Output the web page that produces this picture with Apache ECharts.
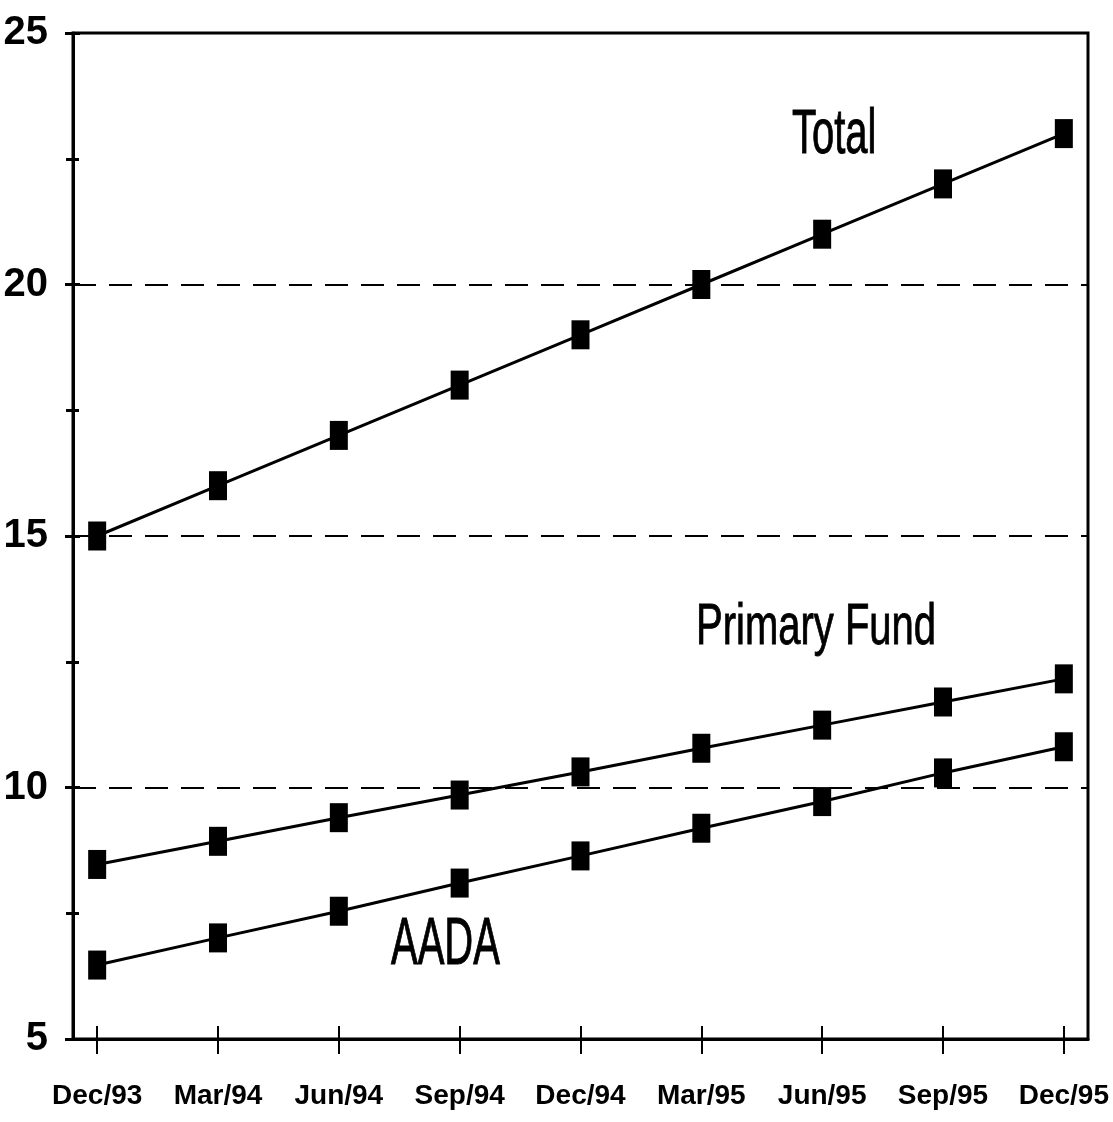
<!DOCTYPE html>
<html><head><meta charset="utf-8">
<script src="https://cdn.jsdelivr.net/npm/echarts@6/dist/echarts.min.js"></script>
<style>html,body{margin:0;padding:0;background:#fff}#c{width:1113px;height:1122px}</style>
</head><body><div id="c"></div>
<script>
const categories = ['Dec/93','Mar/94','Jun/94','Sep/94','Dec/94','Mar/95','Jun/95','Sep/95','Dec/95'];
const totalValues = [15, 16, 17, 18, 19, 20, 21, 22, 23];
const primaryValues = [8.47, 8.93, 9.40, 9.85, 10.31, 10.78, 11.24, 11.70, 12.16];
const aadaValues = [6.47, 7.01, 7.54, 8.10, 8.64, 9.19, 9.72, 10.29, 10.81];
const yTicks = [5, 10, 15, 20, 25];
const seriesNames = ['Total', 'Primary Fund', 'AADA'];

const FONT = '"Liberation Sans", Arial, sans-serif';
const idx = categories.map((_, i) => i);
const toPairs = arr => arr.map((v, i) => [i, v]);

const chart = echarts.init(document.getElementById('c'));
const lineSeries = (name, data) => ({
  name, type: 'line', data: toPairs(data), xAxisIndex: 0, yAxisIndex: 0,
  symbol: 'rect', symbolSize: [18, 29],
  itemStyle: { color: '#000' },
  lineStyle: { color: '#000', width: 3 },
  animation: false, z: 5
});
const seriesLabel = (text, left, cy, sy) => ({
  type: 'text', x: left, y: cy, scaleY: sy, z: 10,
  style: { text, x: 0, y: 0, align: 'left', verticalAlign: 'middle', fill: '#000',
           stroke: '#000', lineWidth: 0.6, font: '40px ' + FONT }
});
chart.setOption({
  animation: false,
  backgroundColor: '#fff',
  grid: { left: 73, top: 33, right: 25, bottom: 83, show: true, borderColor: '#000', borderWidth: 3,
          backgroundColor: 'transparent', outerBoundsMode: 'none', containLabel: false },
  xAxis: [{
    type: 'value', min: -0.2, max: 8.2,
    axisLine: { show: true, onZero: false, lineStyle: { color: '#000', width: 3 } },
    axisTick: { show: true, customValues: idx, length: 15, lineStyle: { color: '#000', width: 2 } },
    axisLabel: { customValues: idx, formatter: v => categories[Math.round(v)] || '', margin: 43,
      color: '#000', fontFamily: FONT, fontWeight: 'bold', fontSize: 28 },
    splitLine: { show: false }
  }, {
    type: 'value', min: -0.2, max: 8.2, position: 'bottom',
    axisLine: { show: false, onZero: false },
    axisTick: { show: true, inside: true, customValues: idx, length: 13, lineStyle: { color: '#000', width: 2 } },
    axisLabel: { show: false }, splitLine: { show: false }
  }],
  yAxis: [{
    type: 'value', min: 5, max: 25, interval: 5, position: 'left',
    axisLine: { show: true, onZero: false, lineStyle: { color: '#000', width: 3 } },
    axisTick: { show: true, inside: true, length: 7, lineStyle: { color: '#000', width: 3 } },
    minorTick: { show: true, splitNumber: 2, length: 6, lineStyle: { color: '#000', width: 3 } },
    axisLabel: { customValues: yTicks, margin: 25, color: '#000', fontFamily: FONT, fontWeight: 'bold', fontSize: 40 },
    splitLine: { show: true, lineStyle: { color: '#000', width: 2, type: [23, 13] } }
  }, {
    type: 'value', min: 5, max: 25, interval: 5, position: 'right', offset: -1015,
    axisLine: { show: false, onZero: false },
    axisTick: { show: true, inside: true, length: 8, lineStyle: { color: '#000', width: 3 } },
    minorTick: { show: true, splitNumber: 2, length: 7, lineStyle: { color: '#000', width: 3 } },
    axisLabel: { show: false }, splitLine: { show: false }
  }],
  series: [
    lineSeries(seriesNames[0], totalValues),
    lineSeries(seriesNames[1], primaryValues),
    lineSeries(seriesNames[2], aadaValues)
  ],
  graphic: [
    seriesLabel(seriesNames[0], 792, 136, 1.58),
    seriesLabel(seriesNames[1], 696, 628, 1.42),
    seriesLabel(seriesNames[2], 391, 945, 1.68)
  ]
});
</script></body></html>
